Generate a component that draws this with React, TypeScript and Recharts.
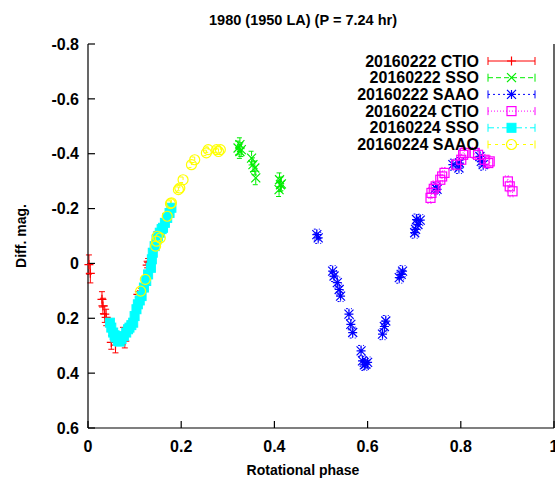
import React from 'react';
import {
  ScatterChart,
  Scatter,
  XAxis,
  YAxis,
  ErrorBar,
  Legend,
  Label,
} from 'recharts';

const FONT = '"Liberation Sans", Arial, Helvetica, sans-serif';

// rotational phase / differential magnitude
const CTIO_0222_PHASE = [0.002, 0.005, 0.030, 0.032, 0.036, 0.039, 0.050, 0.059, 0.075, 0.079, 0.107, 0.118, 0.127, 0.129, 0.147];
const CTIO_0222_MAG = [0.004, 0.036, 0.131, 0.155, 0.185, 0.197, 0.288, 0.298, 0.258, 0.283, 0.113, 0.090, 0.006, -0.008, -0.105];
const CTIO_0222_ERR = [0.035, 0.035, 0.028, 0.028, 0.03, 0.03, 0.025, 0.028, 0.025, 0.025, 0.01, 0.01, 0.01, 0.01, 0.01];

const SSO_0222_PHASE = [0.322, 0.326, 0.326, 0.329, 0.351, 0.354, 0.358, 0.360, 0.410, 0.411, 0.413, 0.415];
const SSO_0222_MAG = [-0.421, -0.433, -0.408, -0.415, -0.384, -0.360, -0.348, -0.312, -0.269, -0.305, -0.287, -0.290];

const SAAO_0222_PHASE = [0.491, 0.494, 0.525, 0.528, 0.535, 0.539, 0.542, 0.560, 0.564, 0.568, 0.586, 0.589, 0.593, 0.596, 0.600, 0.632, 0.636, 0.639, 0.668, 0.672, 0.675, 0.701, 0.703, 0.705, 0.708, 0.713, 0.746, 0.749, 0.783, 0.796, 0.797, 0.841, 0.844, 0.848];
const SAAO_0222_MAG = [-0.105, -0.093, 0.028, 0.046, 0.070, 0.095, 0.119, 0.185, 0.222, 0.252, 0.319, 0.355, 0.370, 0.367, 0.361, 0.258, 0.230, 0.210, 0.052, 0.040, 0.028, -0.112, -0.124, -0.160, -0.142, -0.158, -0.275, -0.270, -0.360, -0.348, -0.366, -0.390, -0.372, -0.360];

const CTIO_0224_PHASE = [0.735, 0.737, 0.742, 0.746, 0.756, 0.760, 0.765, 0.790, 0.801, 0.805, 0.808, 0.830, 0.837, 0.851, 0.859, 0.862, 0.901, 0.905, 0.911];
const CTIO_0224_MAG = [-0.239, -0.257, -0.272, -0.281, -0.305, -0.317, -0.330, -0.360, -0.378, -0.396, -0.403, -0.403, -0.396, -0.378, -0.366, -0.372, -0.299, -0.281, -0.263];

const SSO_0224_PHASE = [0.047, 0.050, 0.054, 0.057, 0.059, 0.064, 0.068, 0.072, 0.077, 0.082, 0.086, 0.089, 0.093, 0.097, 0.100, 0.104, 0.107, 0.111, 0.115, 0.120, 0.125, 0.129, 0.135, 0.137, 0.139, 0.143, 0.147, 0.150, 0.154, 0.158, 0.161, 0.165, 0.170, 0.175, 0.179];
const SSO_0224_MAG = [0.216, 0.234, 0.252, 0.262, 0.270, 0.283, 0.285, 0.276, 0.265, 0.252, 0.240, 0.234, 0.225, 0.216, 0.192, 0.167, 0.149, 0.135, 0.119, 0.088, 0.064, 0.040, 0.016, -0.015, -0.039, -0.063, -0.087, -0.098, -0.112, -0.125, -0.130, -0.148, -0.166, -0.184, -0.203];

const SAAO_0224_PHASE = [0.113, 0.123, 0.145, 0.147, 0.149, 0.155, 0.170, 0.177, 0.179, 0.194, 0.197, 0.204, 0.222, 0.229, 0.254, 0.258, 0.276, 0.280, 0.284];
const SAAO_0224_MAG = [0.101, 0.058, -0.063, -0.081, -0.099, -0.093, -0.172, -0.218, -0.221, -0.269, -0.275, -0.305, -0.360, -0.378, -0.403, -0.415, -0.415, -0.408, -0.415];

const X_TICKS = [0, 0.2, 0.4, 0.6, 0.8, 1];
const Y_TICKS = [-0.8, -0.6, -0.4, -0.2, 0, 0.2, 0.4, 0.6];

type Kind = 'plus' | 'cross' | 'star' | 'square' | 'fsquare' | 'circle';

const toPoints = (phase: number[], mag: number[], err: number[] | number) =>
  phase.map((x, i) => ({ x, y: mag[i], e: Array.isArray(err) ? err[i] : err }));

const SERIES = [
  { name: '20160222 CTIO', color: '#ff0000', dash: undefined, kind: 'plus' as Kind, data: toPoints(CTIO_0222_PHASE, CTIO_0222_MAG, CTIO_0222_ERR) },
  { name: '20160222 SSO', color: '#00ee00', dash: '5 3', kind: 'cross' as Kind, data: toPoints(SSO_0222_PHASE, SSO_0222_MAG, 0.025) },
  { name: '20160222 SAAO', color: '#0000ff', dash: '2 3', kind: 'star' as Kind, data: toPoints(SAAO_0222_PHASE, SAAO_0222_MAG, 0.02) },
  { name: '20160224 CTIO', color: '#ff00ff', dash: '1 2', kind: 'square' as Kind, data: toPoints(CTIO_0224_PHASE, CTIO_0224_MAG, 0.02) },
  { name: '20160224 SSO', color: '#00ffff', dash: '6 3 2 3', kind: 'fsquare' as Kind, data: toPoints(SSO_0224_PHASE, SSO_0224_MAG, 0.01) },
  { name: '20160224 SAAO', color: '#ffff00', dash: '3 4', kind: 'circle' as Kind, data: toPoints(SAAO_0224_PHASE, SAAO_0224_MAG, 0.01) },
];

function marker(kind: Kind, cx: number, cy: number, color: string) {
  const h = 4.5;
  const sw = 1.2;
  switch (kind) {
    case 'plus':
      return <path d={`M${cx - h},${cy}h${2 * h}M${cx},${cy - h}v${2 * h}`} stroke={color} strokeWidth={sw} fill="none" />;
    case 'cross':
      return <path d={`M${cx - h},${cy - h}l${2 * h},${2 * h}M${cx - h},${cy + h}l${2 * h},${-2 * h}`} stroke={color} strokeWidth={sw} fill="none" />;
    case 'star':
      return (
        <path
          d={`M${cx - h},${cy}h${2 * h}M${cx},${cy - h}v${2 * h}M${cx - h},${cy - h}l${2 * h},${2 * h}M${cx - h},${cy + h}l${2 * h},${-2 * h}`}
          stroke={color}
          strokeWidth={sw}
          fill="none"
        />
      );
    case 'square':
      return <rect x={cx - h} y={cy - h} width={2 * h} height={2 * h} stroke={color} strokeWidth={sw} fill="none" />;
    case 'fsquare':
      return <rect x={cx - h} y={cy - h} width={2 * h} height={2 * h} stroke={color} fill={color} />;
    default:
      return <circle cx={cx} cy={cy} r={5} stroke={color} strokeWidth={sw} fill="none" />;
  }
}

function LegendBox() {
  return (
    <svg width={555} height={160} style={{ display: 'block' }}>
      <text x={303} y={20} textAnchor="middle" dominantBaseline="central" fontFamily={FONT} fontWeight="bold" fontSize={14.5} fill="#000">
        1980 (1950 LA) (P = 7.24 hr)
      </text>
      {SERIES.map((s, i) => {
        const y = 61 + i * 16.7;
        return (
          <g key={s.name}>
            <text x={479} y={y} textAnchor="end" dominantBaseline="central" fontFamily={FONT} fontWeight="bold" fontSize={16} fill="#000">
              {s.name}
            </text>
            <line x1={488} x2={535} y1={y} y2={y} stroke={s.color} strokeDasharray={s.dash} />
            <line x1={488} x2={488} y1={y - 4} y2={y + 4} stroke={s.color} />
            <line x1={535} x2={535} y1={y - 4} y2={y + 4} stroke={s.color} />
            {marker(s.kind, 511.5, y, s.color)}
          </g>
        );
      })}
    </svg>
  );
}

const tickStyle = { fill: '#000', fontSize: 16, fontWeight: 'bold', fontFamily: FONT };
const axisLine = { stroke: '#000', strokeWidth: 1.2 };

export default function App() {
  return (
    <div style={{ position: 'absolute', left: 0, top: 0, width: 555, height: 478, overflow: 'hidden', background: '#fff' }}>
      <ScatterChart width={555} height={478} margin={{ top: 44, right: 0, bottom: 0, left: 0 }}>
        <XAxis
          type="number"
          dataKey="x"
          domain={[0, 1]}
          ticks={X_TICKS}
          interval={0}
          height={50}
          tickSize={-7}
          tickMargin={20}
          tick={tickStyle}
          axisLine={axisLine}
          tickLine={axisLine}
        >
          <Label
            content={() => (
              <text x={303} y={470} textAnchor="middle" dominantBaseline="central" fontFamily={FONT} fontWeight="bold" fontSize={14} fill="#000">
                Rotational phase
              </text>
            )}
          />
        </XAxis>
        <XAxis
          xAxisId="top"
          orientation="top"
          type="number"
          domain={[0, 1]}
          ticks={X_TICKS}
          interval={0}
          height={0}
          tickSize={-7}
          tick={false}
          axisLine={axisLine}
          tickLine={axisLine}
        />
        <YAxis
          type="number"
          dataKey="y"
          domain={[-0.8, 0.6]}
          reversed
          ticks={Y_TICKS}
          interval={0}
          width={88}
          tickSize={-7}
          tickMargin={16}
          tick={tickStyle}
          axisLine={axisLine}
          tickLine={axisLine}
        >
          <Label
            content={() => (
              <text
                x={21}
                y={236}
                transform="rotate(-90 21 236)"
                textAnchor="middle"
                dominantBaseline="central"
                fontFamily={FONT}
                fontWeight="bold"
                fontSize={14}
                fill="#000"
              >
                Diff. mag.
              </text>
            )}
          />
        </YAxis>
        <YAxis
          yAxisId="right"
          orientation="right"
          type="number"
          domain={[-0.8, 0.6]}
          reversed
          ticks={Y_TICKS}
          interval={0}
          width={1}
          tickSize={-7}
          tick={false}
          axisLine={axisLine}
          tickLine={axisLine}
        />
        <Legend
          layout="vertical"
          align="center"
          verticalAlign="middle"
          wrapperStyle={{ left: 0, top: 0, width: 555, height: 160 }}
          content={() => <LegendBox />}
        />
        {SERIES.map((s) => (
          <Scatter
            key={s.name}
            name={s.name}
            data={s.data}
            fill={s.color}
            isAnimationActive={false}
            shape={(p: any) => marker(s.kind, p.cx, p.cy, s.color)}
          >
            <ErrorBar dataKey="e" direction="y" width={3} stroke={s.color} strokeWidth={1} strokeDasharray={s.dash} />
          </Scatter>
        ))}
      </ScatterChart>
    </div>
  );
}
